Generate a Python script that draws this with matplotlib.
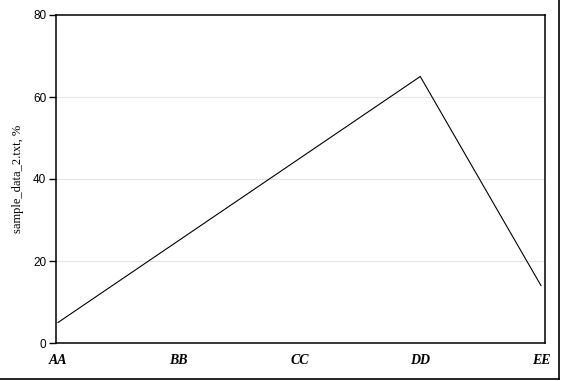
import matplotlib.pyplot as plt
from matplotlib.lines import Line2D

categories = ["AA", "BB", "CC", "DD", "EE"]
values = [5, 25, 45, 65, 14]
y_ticks = [0, 20, 40, 60, 80]

W, H = 561, 381
fig = plt.figure(figsize=(W / 100, H / 100), dpi=100)
fig.patch.set_facecolor("white")

# plot area in pixels: left 56, right 545, top 15, bottom 343
ax = fig.add_axes([56 / W, (H - 343) / H, (545 - 56) / W, (343 - 15) / H])

x = list(range(len(categories)))
ax.plot(x, values, color="black", lw=0.8, zorder=3)

ax.set_ylim(0, 80)
ax.set_xlim(-2 / 120.75, 4 + 4 / 120.75)
ax.set_yticks(y_ticks)
ax.set_yticklabels([str(v) for v in y_ticks], fontfamily="Liberation Sans", fontsize=8.5)
ax.set_xticks(x)
ax.set_xticklabels(categories, fontfamily="Liberation Serif", fontsize=10,
                   fontweight="bold", fontstyle="italic")

ax.tick_params(axis="x", length=0, pad=8)
ax.tick_params(axis="y", length=5, width=1, pad=2, direction="out")

for v in y_ticks[1:-1]:
    ax.axhline(v, color="#e6e6e6", lw=0.8, zorder=1)

for s in ax.spines.values():
    s.set_linewidth(1.1)
    s.set_color("black")

ax.set_ylabel("sample_data_2.txt, %", fontfamily="Liberation Serif", fontsize=9)
ax.yaxis.set_label_coords(-32 / (545 - 56), 0.5)

# outer frame (right and bottom edges)
fig.add_artist(Line2D([558.5 / W, 558.5 / W], [1 - 378.5 / H, 1], color="black", lw=1.2,
                      transform=fig.transFigure))
fig.add_artist(Line2D([0, 558.5 / W], [1 - 378.5 / H, 1 - 378.5 / H], color="black", lw=1.2,
                      transform=fig.transFigure))

plt.savefig("out.png", dpi=100)
plt.close()
